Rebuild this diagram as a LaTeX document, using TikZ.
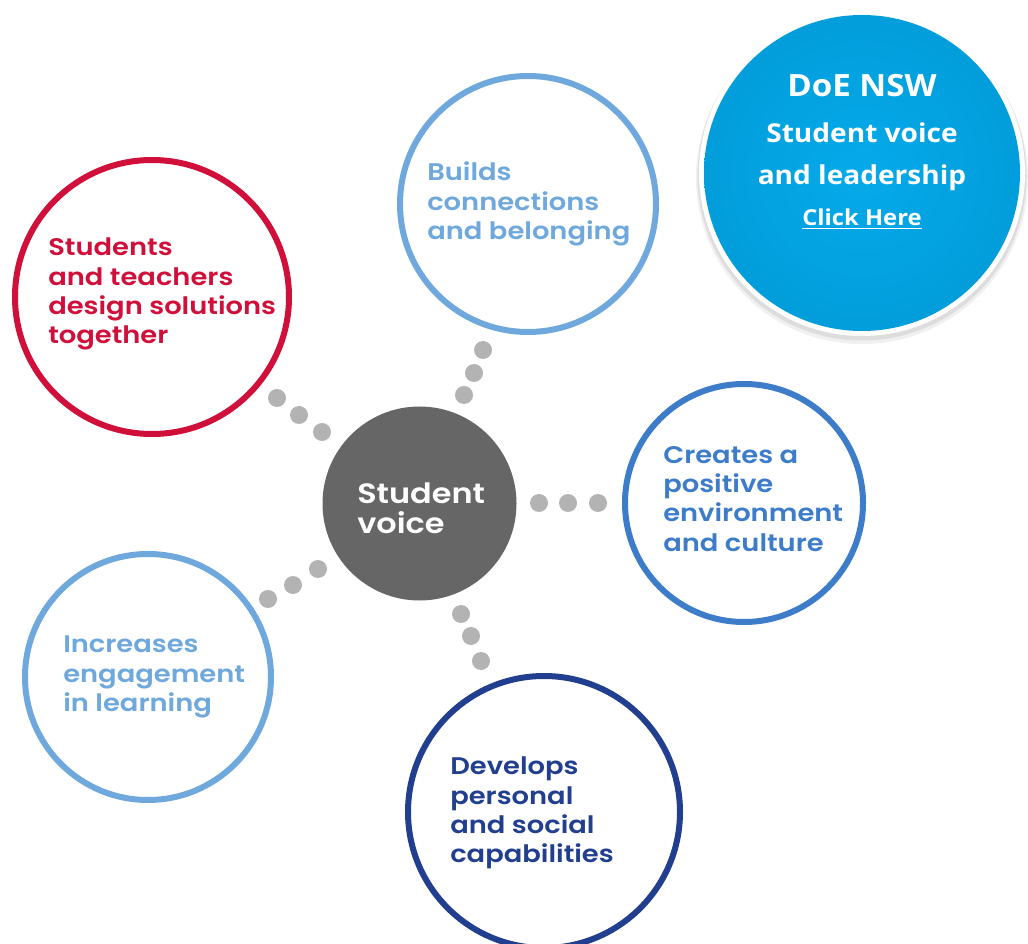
\documentclass[tikz,border=0pt]{standalone}
\usepackage{fontspec}
\newfontfamily\popfont{Poppins SemiBold}[FakeStretch=1.14]
\newfontfamily\boxfont{Open Sans}[FakeStretch=1.08]
\definecolor{cred}{HTML}{D0103A}
\definecolor{clight}{HTML}{6FA8DC}
\definecolor{cmid}{HTML}{3D7CC9}
\definecolor{cnavy}{HTML}{213F8E}
\definecolor{cgray}{HTML}{666666}
\definecolor{cdot}{HTML}{B3B3B3}
\definecolor{cblue}{HTML}{05AAEA}
\definecolor{cbluedark}{HTML}{029DDB}
\tikzset{
  ring/.style={circle, draw, line width=4.5pt, inner sep=0pt, fill=white},
  lbl/.style={anchor=west, align=left, inner sep=0pt, font=\popfont\fontsize{18pt}{21.9pt}\selectfont},
  dotc/.style={circle, fill=cdot, inner sep=0pt, minimum size=13.5pt},
  boxtxt/.style={text=white, inner sep=0pt, font=\boxfont\bfseries}
}
\begin{document}
\begin{tikzpicture}[x=0.75pt,y=-0.75pt]
\useasboundingbox (0,0) rectangle (1028,944);
\fill[white] (0,0) rectangle (1028,944);
% main rings
\node[ring, draw=cred, minimum size=205.5pt] (red) at (152,297) {};
\node[ring, draw=clight, minimum size=192pt] (builds) at (528,204) {};
\node[ring, draw=cmid, minimum size=178.5pt] (creates) at (744,503) {};
\node[ring, draw=clight, minimum size=184.5pt] (incr) at (148,677) {};
\node[ring, draw=cnavy, minimum size=204pt] (dev) at (544,812) {};
\node[circle, fill=cgray, inner sep=0pt, minimum size=145.5pt] (sv) at (419.5,503.5) {};
% dots
\node[dotc] (a1) at (322,432) {};
\node[dotc] (a2) at (299,415) {};
\node[dotc] (a3) at (277,398) {};
\node[dotc] (b1) at (464,395) {};
\node[dotc] (b2) at (474,373) {};
\node[dotc] (b3) at (483,350) {};
\node[dotc] (c1) at (539,503) {};
\node[dotc] (c2) at (568,503) {};
\node[dotc] (c3) at (598,503) {};
\node[dotc] (d1) at (318,569) {};
\node[dotc] (d2) at (293,585) {};
\node[dotc] (d3) at (268,599) {};
\node[dotc] (e1) at (461,614) {};
\node[dotc] (e2) at (471,636) {};
\node[dotc] (e3) at (481,661) {};
% labels
\node[lbl, text=cred] (tred) at (48,294) {Students\\and teachers\\design solutions\\together};
\node[lbl, text=clight] (tbuilds) at (427,204) {Builds\\connections\\and belonging};
\node[lbl, text=cmid] (tcreates) at (663,499) {Creates a\\positive\\environment\\and culture};
\node[lbl, text=clight] (tincr) at (63,677) {Increases\\engagement\\in learning};
\node[lbl, text=cnavy] (tdev) at (450,813) {Develops\\personal\\and social\\capabilities};
\node[lbl, text=white, font=\popfont\fontsize{21pt}{22.5pt}\selectfont] (tsv) at (357,508) {Student\\voice};
% link circle
\fill[black, opacity=0.06] (862,178) circle[radius=166];
\fill[black, opacity=0.08] (862,176) circle[radius=164.5];
\node[circle, fill=white, inner sep=0pt, minimum size=244.5pt] (linkout) at (862,173) {};
\node[circle, inner sep=0pt, minimum size=237pt, inner color=cblue, outer color=cbluedark] (link) at (862,173) {};
\node[boxtxt, font=\boxfont\bfseries\fontsize{23pt}{26pt}\selectfont] (l1) at (862,86) {DoE NSW};
\node[boxtxt, font=\boxfont\bfseries\fontsize{19.5pt}{22pt}\selectfont] (l2) at (862,133) {Student voice};
\node[boxtxt, font=\boxfont\bfseries\fontsize{19.5pt}{22pt}\selectfont] (l3) at (862,178) {and leadership};
\node[boxtxt, font=\boxfont\bfseries\fontsize{16.5pt}{19pt}\selectfont] (l4) at (862,219) {\underline{Click Here}};
\end{tikzpicture}
\end{document}
